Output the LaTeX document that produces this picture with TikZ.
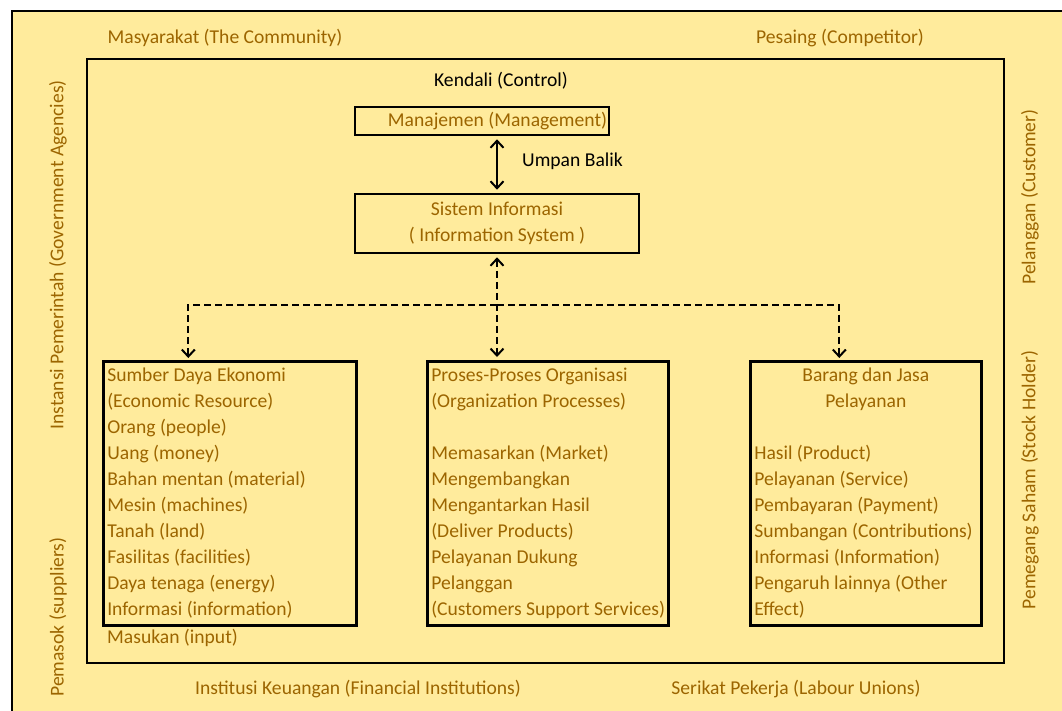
\documentclass[tikz,border=0pt]{standalone}
\usepackage{fontspec}
\setmainfont{Carlito}
\usetikzlibrary{arrows.meta}
\definecolor{neutralFill}{HTML}{FFEB9C}
\definecolor{neutralText}{HTML}{9C6500}
\newcommand{\boxRule}[0]{2.6pt}
\newcommand{\lineSkip}[0]{26pt}
\newcommand{\midLine}[1]{\hspace*{\fill}#1\hspace*{\fill}\mbox{}}

\begin{document}
\begin{tikzpicture}[x=1pt, y=-1pt]
  \tikzset{every node/.style={font=\fontsize{19.6}{26}\selectfont, text=neutralText, inner sep=0pt},
    frame/.style={draw=black, line width=\boxRule},
    listbox/.style={frame, anchor=north west, align=flush left, inner xsep=4pt, minimum height=264pt},
    link/.style={line width=2pt, {Straight Barb[length=7pt,width=13pt]}-{Straight Barb[length=7pt,width=13pt]}, shorten <=3pt, shorten >=3pt},
    dashlink/.style={line width=2pt, dash pattern=on 7pt off 4pt},
    tip/.style={-{Straight Barb[length=7pt,width=13pt]}, shorten >=2pt}}
  \useasboundingbox (0,0) rectangle (1062,710);
  \fill[neutralFill] (12,11) rectangle (1090,730);
  \draw[line width=2pt] (12,11) rectangle (1090,730);
  % environment
  \node (Comm-1) at (225,38) {Masyarakat (The Community)};
  \node (Comp-1) at (840,38) {Pesaing (Competitor)};
  \node (Gov-1) [rotate=90] at (58,255) {Instansi Pemerintah (Government Agencies)};
  \node (Supp-1) [rotate=90] at (58,617) {Pemasok (suppliers)};
  \node (Cust-1) [rotate=90] at (1030,197) {Pelanggan (Customer)};
  \node (Stock-1) [rotate=90] at (1030,480) {Pemegang Saham (Stock Holder)};
  \node (Fin-1) at (358,689) {Institusi Keuangan (Financial Institutions)};
  \node (Union-1) at (796,689) {Serikat Pekerja (Labour Unions)};
  % firm
  \node (Firm-1) [frame, minimum width=917pt, minimum height=604pt] at (545.5,361) {};
  \node (Ctrl-1) [text=black] at (501,81) {Kendali (Control)};
  \node (Mgmt-1) [frame, minimum width=254pt, minimum height=28pt, text width=250pt, align=flush right] at (482,121) {Manajemen (Management)};
  \node (SI-1) [frame, minimum width=284pt, minimum height=59pt, align=center] at (497,223.5) {Sistem Informasi\\( Information System )};
  \node (Fb-1) [text=black, anchor=west] at (522,161) {Umpan Balik};
  \node (Res-1) [listbox, text width=245pt] at (102,360) {Sumber Daya Ekonomi\\(Economic Resource)\\Orang (people)\\Uang (money)\\Bahan mentan (material)\\Mesin (machines)\\Tanah (land)\\Fasilitas (facilities)\\Daya tenaga (energy)\\Informasi (information)};
  \node (In-1) [anchor=west] at (107,638) {Masukan (input)};
  \node (Proc-1) [listbox, text width=233pt] at (426,360) {Proses-Proses Organisasi\\(Organization Processes)\\[\lineSkip]Memasarkan (Market)\\Mengembangkan\\Mengantarkan Hasil\\(Deliver Products)\\Pelayanan Dukung\\Pelanggan\\\mbox{(Customers Support Services)}};
  \node (Out-1) [listbox, text width=223pt] at (749,360) {\midLine{Barang dan Jasa}\\\midLine{Pelayanan}\\[\lineSkip]Hasil (Product)\\Pelayanan (Service)\\Pembayaran (Payment)\\Sumbangan (Contributions)\\Informasi (Information)\\Pengaruh lainnya (Other\\Effect)};
  % flows
  \coordinate (Fork-1) at (SI-1.south |- 0,305);
  \draw[link] (SI-1.north |- Mgmt-1.south) -- (SI-1.north);
  \draw[link, dashlink] (SI-1.south) -- (SI-1.south |- Proc-1.north);
  \draw[dashlink, tip] (Fork-1) -| ([xshift=-41.5pt]Res-1.north);
  \draw[dashlink, tip] (Fork-1) -| ([xshift=-26.5pt]Out-1.north);
\end{tikzpicture}
\end{document}
